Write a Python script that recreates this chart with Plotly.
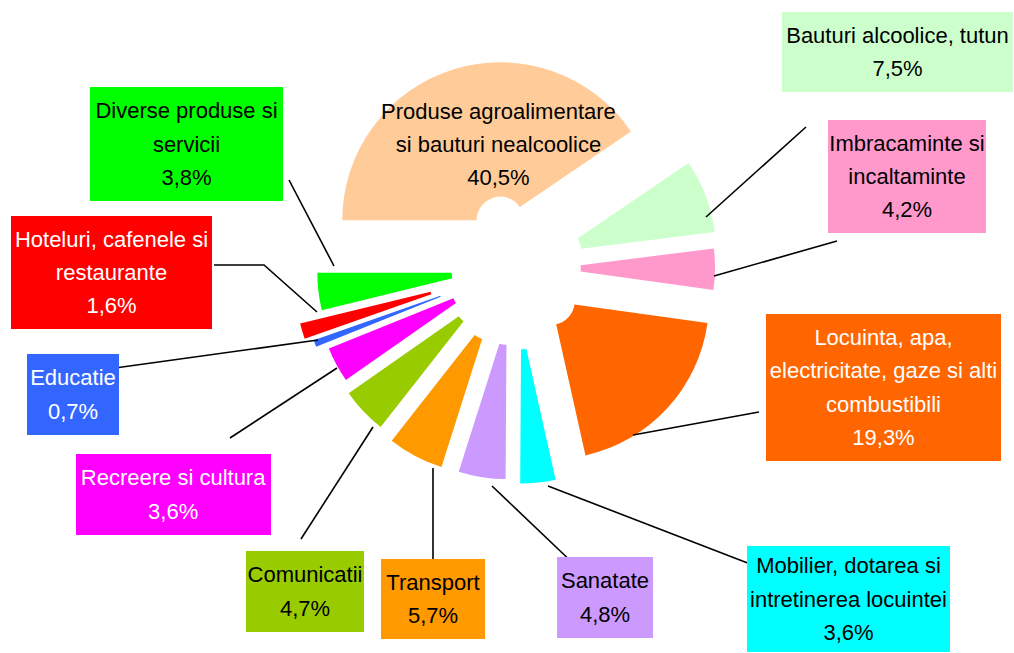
import plotly.graph_objects as go

# ---------------- data ----------------
categories = [
    "Produse agroalimentare si bauturi nealcoolice",
    "Bauturi alcoolice, tutun",
    "Imbracaminte si incaltaminte",
    "Locuinta, apa, electricitate, gaze si alti combustibili",
    "Mobilier, dotarea si intretinerea locuintei",
    "Sanatate",
    "Transport",
    "Comunicatii",
    "Recreere si cultura",
    "Educatie",
    "Hoteluri, cafenele si restaurante",
    "Diverse produse si servicii",
]
values = [40.5, 7.5, 4.2, 19.3, 3.6, 4.8, 5.7, 4.7, 3.6, 0.7, 1.6, 3.8]
label_lines = [
    "Produse agroalimentare<br>si bauturi nealcoolice",
    "Bauturi alcoolice, tutun",
    "Imbracaminte si<br>incaltaminte",
    "Locuinta, apa,<br>electricitate, gaze si alti<br>combustibili",
    "Mobilier, dotarea si<br>intretinerea locuintei",
    "Sanatate",
    "Transport",
    "Comunicatii",
    "Recreere si cultura",
    "Educatie",
    "Hoteluri, cafenele si<br>restaurante",
    "Diverse produse si<br>servicii",
]

# ---------------- styles ----------------
colors = ["#FFCC99", "#CCFFCC", "#FF99CC", "#FF6600", "#00FFFF", "#CC99FF",
          "#FF9900", "#99CC00", "#FF00FF", "#3366FF", "#FF0000", "#00FF00"]
text_colors = ["black", "black", "black", "white", "black", "black",
               "black", "black", "white", "white", "white", "black"]
pulls = [0.316, 0.29, 0.266, 0.31, 0.366, 0.34, 0.347, 0.32, 0.285, 0.354, 0.405, 0.253]

W, H = 1014, 653
R = 158            # pie radius in px
CX, CY = 515, 268  # pie centre in px
half = R * (1 + max(pulls))

# label boxes: centre x, centre y, width, height (px); None => no box
boxes = [
    (498, 144, None, None),
    (897.5, 52, 231, 80),
    (907, 176.5, 158, 113),
    (883.5, 387.5, 235, 147),
    (848.5, 599, 203, 106),
    (605, 597.5, 96, 81),
    (433, 599, 104, 80),
    (305, 591.5, 118, 81),
    (173.5, 494.5, 195, 81),
    (73, 394.5, 92, 81),
    (111.5, 272.5, 201, 113),
    (186.5, 144, 193, 114),
]

# leader lines (px)
leaders = [
    None,
    [(806, 127), (706, 217)],
    [(837, 241), (714, 276)],
    [(759, 412), (633, 435)],
    [(758, 567), (548, 486)],
    [(577, 567), (492, 486)],
    [(433, 567), (433, 468)],
    [(301, 539), (373, 427)],
    [(230, 438), (337, 368)],
    [(115, 368), (318, 340)],
    [(214, 265), (264, 265), (317, 312)],
    [(289, 180), (334, 266)],
]

def px(x):
    return x / W

def py(y):
    return 1 - y / H

fig = go.Figure(go.Pie(
    labels=categories,
    values=values,
    sort=False,
    direction="clockwise",
    rotation=270,
    pull=pulls,
    hole=0.15,
    marker=dict(colors=colors, line=dict(width=0)),
    textinfo="none",
    showlegend=False,
    domain=dict(x=[px(CX - half), px(CX + half)],
                y=[py(CY + half), py(CY - half)]),
))

FS = "22px"
annotations = []
for i, (lab, v) in enumerate(zip(label_lines, values)):
    pct = f"{v:.1f}".replace(".", ",") + "%"
    lines = lab.split("<br>") + [pct]
    text = "<br>".join(f"<span style='font-size:{FS}'>{ln}</span>" for ln in lines)
    bx, by, bw, bh = boxes[i]
    ann = dict(
        x=px(bx), y=py(by), xref="paper", yref="paper",
        xanchor="center", yanchor="middle",
        text=text, showarrow=False, align="center", valign="middle",
        font=dict(family="Liberation Sans, Arial, sans-serif", size=25.5,
                  color=text_colors[i]),
        borderpad=0, borderwidth=0,
    )
    if bw is not None:
        ann.update(width=bw, height=bh, bgcolor=colors[i])
    annotations.append(ann)

shapes = []
for pts in leaders:
    if not pts:
        continue
    path = "M " + " L ".join(f"{px(x):.5f},{py(y):.5f}" for x, y in pts)
    shapes.append(dict(type="path", path=path, xref="paper", yref="paper",
                       line=dict(color="black", width=1.6)))

fig.update_layout(
    width=W, height=H,
    margin=dict(l=0, r=0, t=0, b=0),
    paper_bgcolor="white", plot_bgcolor="white",
    annotations=annotations,
    shapes=shapes,
)

fig.write_html(
    "out.html",
    config={"displayModeBar": False},
    post_script="document.body.style.margin='0';document.body.style.overflow='hidden';",
)
